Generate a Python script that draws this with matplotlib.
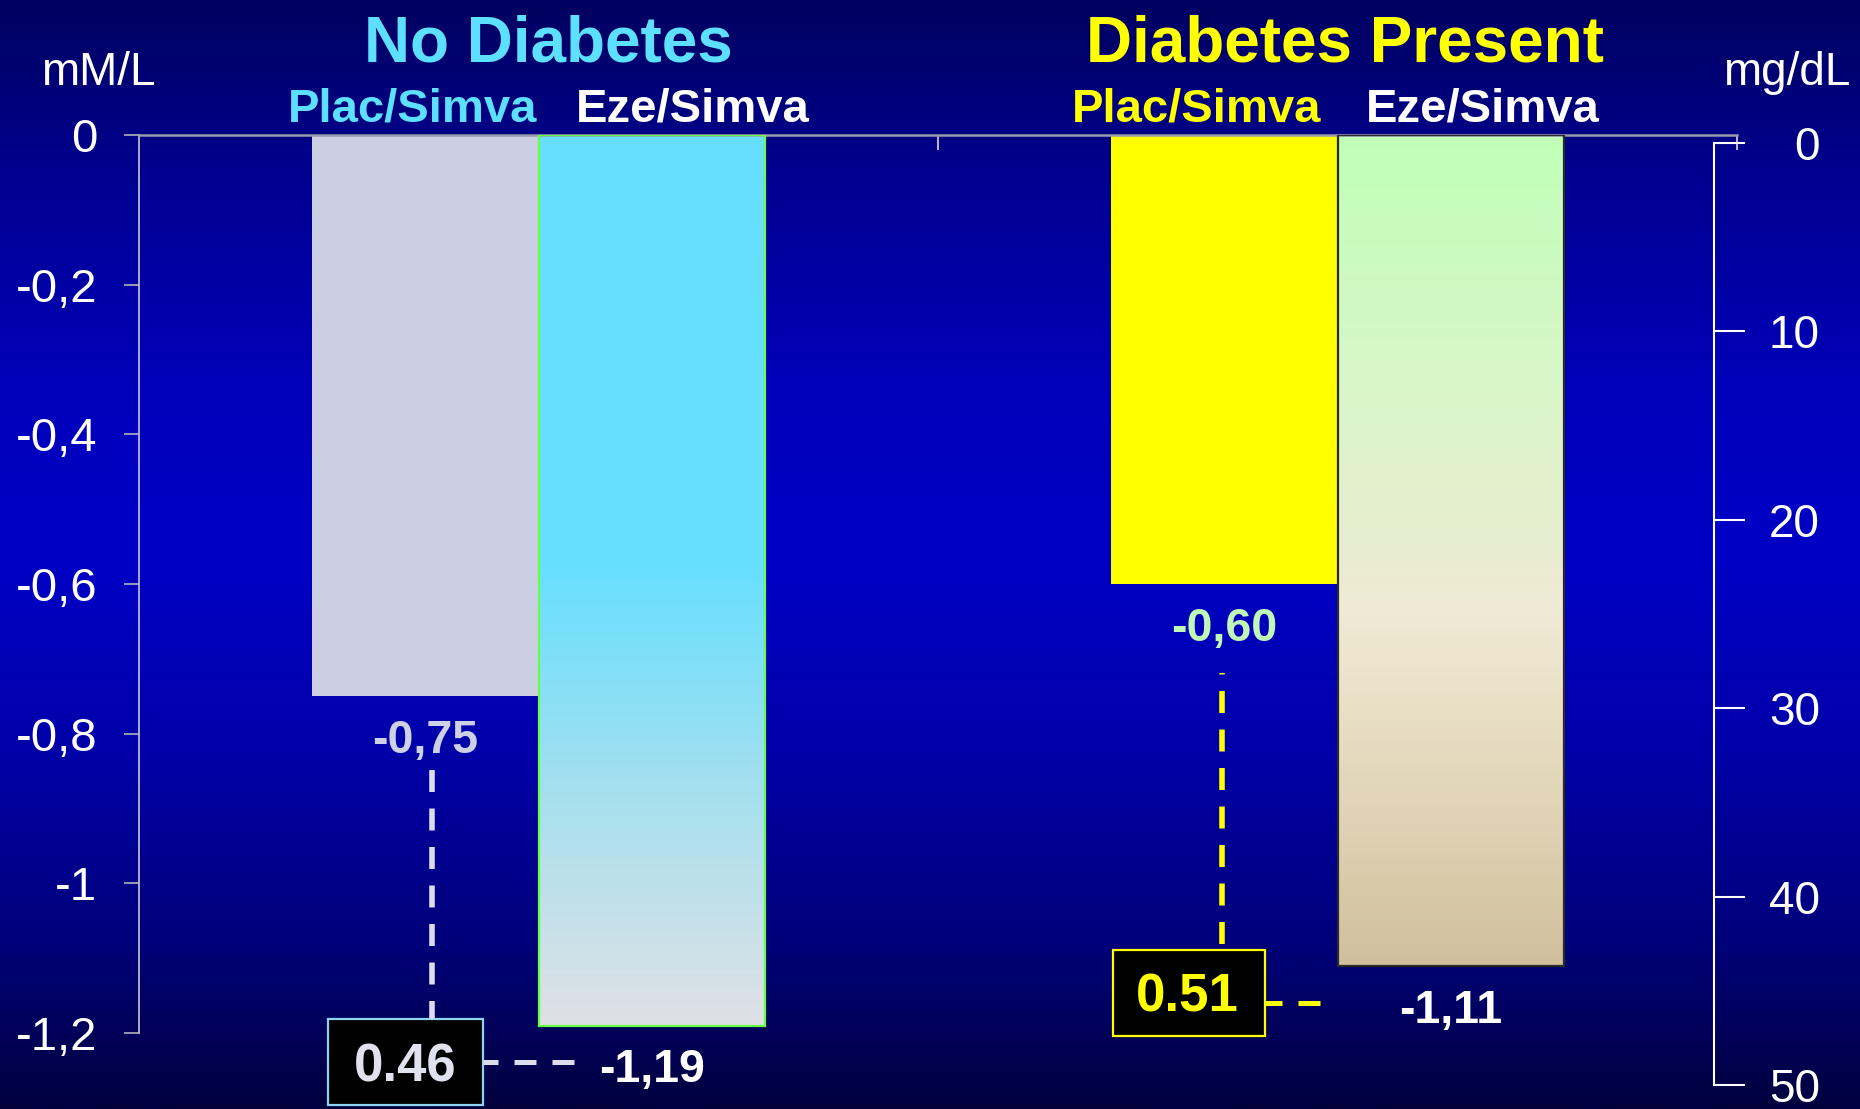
import numpy as np
import matplotlib
matplotlib.use("Agg")
import matplotlib.pyplot as plt
from matplotlib.colors import LinearSegmentedColormap
from matplotlib.patches import Rectangle
from matplotlib.lines import Line2D

plt.rcParams['font.family'] = ['Liberation Sans', 'DejaVu Sans']

# ---- data -------------------------------------------------------------
groups = ["No Diabetes", "Diabetes Present"]
treatments = ["Plac/Simva", "Eze/Simva"]
plac_simva = [-0.75, -0.60]          # LDL-C change, mM/L
eze_simva = [-1.19, -1.11]           # LDL-C change, mM/L
p_values = ["0.46", "0.51"]
mm_ticks = [0, -0.2, -0.4, -0.6, -0.8, -1.0, -1.2]
mm_tick_labels = ["0", "-0,2", "-0,4", "-0,6", "-0,8", "-1", "-1,2"]
mg_ticks = [0, 10, 20, 30, 40, 50]
mg_tick_labels = ["0", "10", "20", "30", "40", "50"]

W, H = 1860, 1109


def fx(px):
    return px / W


def fy(py):
    return 1 - py / H


def comma(v):
    return f"{v:.2f}".replace(".", ",")


fig = plt.figure(figsize=(W / 100, H / 100), dpi=100)

# ---- slide background: vertical navy gradient --------------------------
bg = fig.add_axes([0, 0, 1, 1], zorder=-10)
bg.axis("off")
bg_cmap = LinearSegmentedColormap.from_list(
    "bg", [(0.0, "#000060"), (0.15, "#00008E"), (0.35, "#0000BA"),
           (0.5, "#0000C6"), (0.68, "#0000A8"), (0.85, "#00007A"),
           (1.0, "#00003E")])
bg.imshow(np.linspace(0, 1, 512)[:, None], aspect="auto", cmap=bg_cmap,
          extent=[0, 1, 0, 1])

# ---- main chart (mM/L) -------------------------------------------------
ax = fig.add_axes([fx(139), fy(1033), fx(1737) - fx(139), (1033 - 135) / H])
ax.patch.set_visible(False)

x = np.arange(len(groups))
w = 0.284

plac_bars = ax.bar(x - w / 2, plac_simva, w, color=["#CBCFE3", "#FFFF00"],
                   linewidth=0, zorder=2)
eze_bars = ax.bar(x + w / 2, eze_simva, w, color="none",
                  edgecolor=["#66FF44", "#2A2A2A"], linewidth=1.6, zorder=3)

eze_gradients = [
    LinearSegmentedColormap.from_list(
        "eze_nd", [(0.0, "#66DFFF"), (0.48, "#66DFFF"), (0.75, "#A8E0EE"),
                   (1.0, "#DFE1E5")]),
    LinearSegmentedColormap.from_list(
        "eze_d", [(0.0, "#C0FFB8"), (0.3, "#D8F6C8"), (0.58, "#F0EAD4"),
                  (0.8, "#E2D5B8"), (1.0, "#D0BF9C")]),
]
for rect, cm in zip(eze_bars, eze_gradients):
    x0 = rect.get_x()
    y_end = rect.get_y() + rect.get_height()
    img = ax.imshow(np.linspace(0, 1, 256)[:, None], aspect="auto", cmap=cm,
                    extent=[x0, x0 + rect.get_width(), y_end, 0],
                    origin="upper", zorder=2.5)
    img.set_clip_path(rect)

ax.set_xlim(-0.5, len(groups) - 0.5)
ax.set_ylim(-1.2, 0)

for side in ("right", "bottom"):
    ax.spines[side].set_visible(False)
ax.spines["left"].set_color("#C8C8D0")
ax.spines["left"].set_linewidth(1.2)
ax.spines["top"].set_color("#9A9AAA")
ax.spines["top"].set_linewidth(1.8)

ax.set_yticks(mm_ticks, mm_tick_labels)
ax.tick_params(axis="y", direction="out", length=10.5, width=1.2,
               color="#B0B0BA", labelsize=34, labelcolor="white", pad=19.5)
ax.xaxis.tick_top()
ax.set_xticks(x + 0.5, [""] * len(groups))
ax.tick_params(axis="x", direction="in", length=11, width=1.2,
               color="#D8D8E0", top=True, bottom=False,
               labeltop=False, labelbottom=False)

# value labels under each bar end
plac_label_colors = ["#CDD1E6", "#BFF7B6"]
for rect, v, c in zip(plac_bars, plac_simva, plac_label_colors):
    ax.annotate(comma(v), xy=(rect.get_x() + rect.get_width() / 2, v),
                xytext=(0, -41), textcoords="offset points", ha="center",
                va="baseline", fontsize=33.5, fontweight="bold", color=c)
for rect, v in zip(eze_bars, eze_simva):
    ax.annotate(comma(v), xy=(rect.get_x() + rect.get_width() / 2, v),
                xytext=(0, -41), textcoords="offset points", ha="center",
                va="baseline", fontsize=33.5, fontweight="bold", color="white")

# ---- right-hand scale (mg/dL) ------------------------------------------
axr = fig.add_axes([fx(1700), fy(1085), fx(1714) - fx(1700), (1085 - 143) / H])
axr.patch.set_visible(False)
for side in ("left", "top", "bottom"):
    axr.spines[side].set_visible(False)
axr.spines["right"].set_color("white")
axr.spines["right"].set_linewidth(1.5)
axr.set_xticks([])
axr.set_ylim(max(mg_ticks), min(mg_ticks))
axr.yaxis.tick_right()
axr.set_yticks(mg_ticks, mg_tick_labels)
axr.tick_params(axis="y", direction="out", length=22.3, width=1.5,
                color="white", labelsize=33, labelcolor="white", pad=54)
for t in axr.yaxis.get_major_ticks():
    t.label2.set_horizontalalignment("right")

# ---- headings ----------------------------------------------------------
fig.text(fx(98), fy(85), "mM/L", ha="center", va="baseline",
         fontsize=33, color="white")
fig.text(fx(1787), fy(85), "mg/dL", ha="center", va="baseline",
         fontsize=33, color="white")

group_colors = ["#5DE0FF", "#FFFF00"]
group_x = [548.6, 1344.6]
for name, c, gx in zip(groups, group_colors, group_x):
    fig.text(fx(gx), fy(61), name, ha="center", va="baseline",
             fontsize=46, fontweight="bold", color=c)

sub_x = [[413, 693], [1197, 1483]]
sub_colors = [["#5DE0FF", "white"], ["#FFFF00", "white"]]
for xs, cs in zip(sub_x, sub_colors):
    for name, sx, c in zip(treatments, xs, cs):
        fig.text(fx(sx), fy(122), name, ha="center", va="baseline",
                 fontsize=34, fontweight="bold", color=c)

# ---- p-value call-outs -------------------------------------------------
callouts = [
    dict(vline=(432, 770, 1019), box=(328, 1019, 483, 1105),
         hline=(574, 483, 1062), text_xy=(405, 1082),
         line_color="#DCDCEC", edge="#8FD3F0", text_color="#E2E2EE"),
    dict(vline=(1221.5, 944, 673), box=(1113, 950, 1265, 1036),
         hline=(1320, 1265, 1003), text_xy=(1187, 1012),
         line_color="#FFFF00", edge="#FFFF00", text_color="#FFFF00"),
]
for p, co in zip(p_values, callouts):
    vx, vy0, vy1 = co["vline"]
    fig.add_artist(Line2D([fx(vx), fx(vx)], [fy(vy0), fy(vy1)],
                          transform=fig.transFigure, color=co["line_color"],
                          lw=4, linestyle=(0, (3.96, 2.97)),
                          solid_capstyle="butt"))
    hx0, hx1, hy = co["hline"]
    fig.add_artist(Line2D([fx(hx0), fx(hx1)], [fy(hy), fy(hy)],
                          transform=fig.transFigure, color=co["line_color"],
                          lw=3.6, linestyle=(0, (4.4, 3.2))))
    bx0, by0, bx1, by1 = co["box"]
    fig.add_artist(Rectangle((fx(bx0), fy(by1)), fx(bx1) - fx(bx0),
                             (by1 - by0) / H, transform=fig.transFigure,
                             facecolor="black", edgecolor=co["edge"], lw=1.6))
    tx, ty = co["text_xy"]
    fig.text(fx(tx), fy(ty), p, ha="center", va="baseline", fontsize=38,
             fontweight="bold", color=co["text_color"])

fig.savefig("out.png", dpi=100)
